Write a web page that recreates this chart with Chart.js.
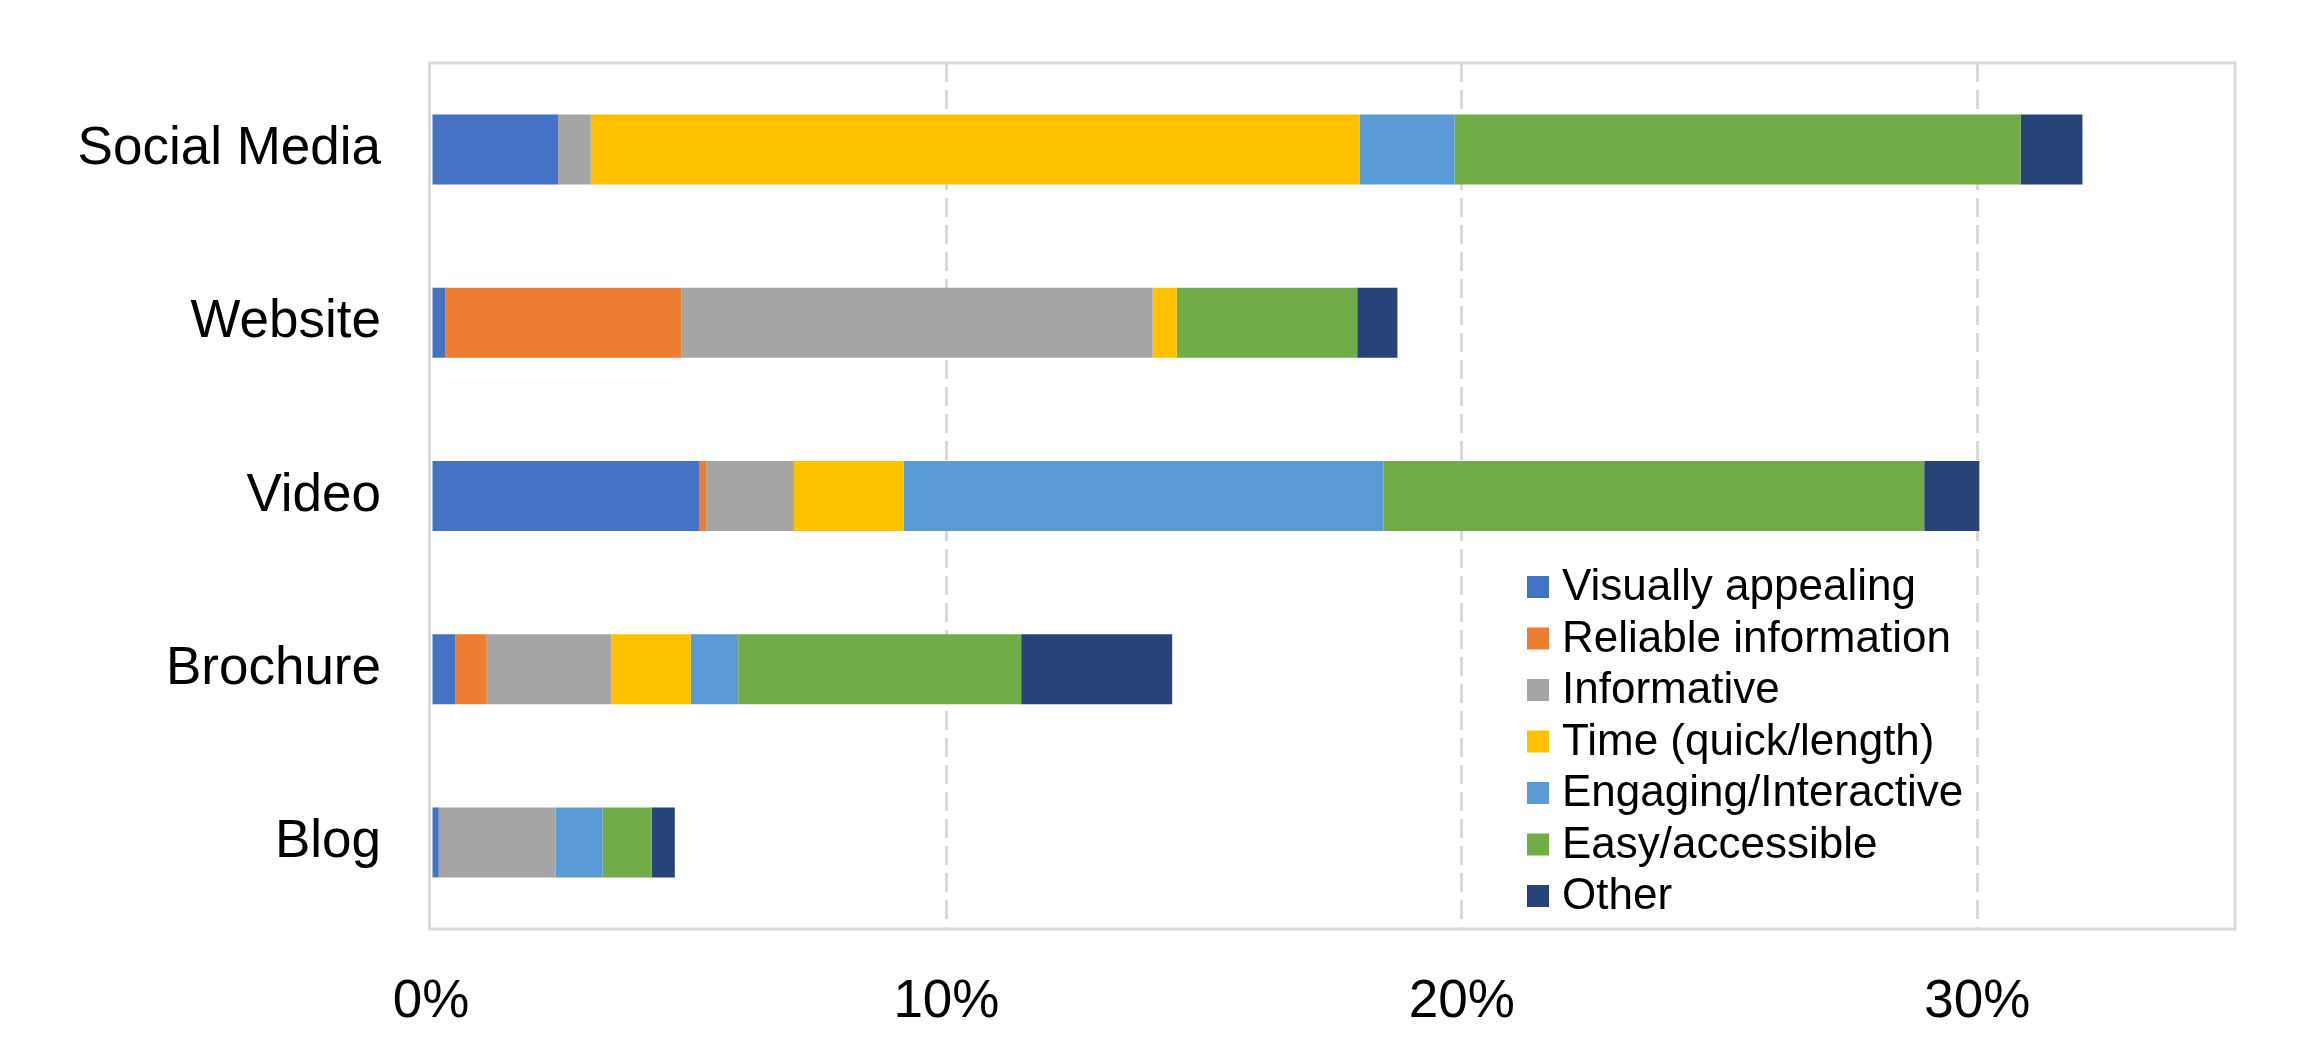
<!DOCTYPE html>
<html>
<head>
<meta charset="utf-8">
<script src="https://cdn.jsdelivr.net/npm/chart.js@4/dist/chart.umd.min.js"></script>
<style>
  html, body { margin: 0; padding: 0; background: #fff; }
  #wrap { width: 2306px; height: 1039px; }
</style>
</head>
<body>
<div id="wrap"><canvas id="chart" width="2306" height="1039"></canvas></div>
<script>
// categories (top to bottom)
const categories = ['Social Media', 'Website', 'Video', 'Brochure', 'Blog'];

// series values, % of responses
const visuallyAppealing = [2.47, 0.28, 5.2, 0.47, 0.15];
const reliableInfo      = [0, 4.58, 0.14, 0.61, 0];
const informative       = [0.63, 9.14, 1.7, 2.42, 2.27];
const timeQuickLength   = [14.92, 0.47, 2.13, 1.54, 0];
const engaging          = [1.84, 0, 9.31, 0.92, 0.91];
const easyAccessible    = [10.98, 3.5, 10.49, 5.49, 0.95];
const other             = [1.2, 0.78, 1.07, 2.93, 0.45];

// x-axis tick labels
const xTicks = [0, 10, 20, 30];
const xMax = 35;

const FONT = "'Liberation Sans', Arial, sans-serif";
const frameColor = '#d9d9d9';

const series = [
    { label: 'Visually appealing', data: visuallyAppealing, color: '#4472C4' },
    { label: 'Reliable information', data: reliableInfo, color: '#ED7D31' },
    { label: 'Informative', data: informative, color: '#A5A5A5' },
    { label: 'Time (quick/length)', data: timeQuickLength, color: '#FFC000' },
    { label: 'Engaging/Interactive', data: engaging, color: '#5B9BD5' },
    { label: 'Easy/accessible', data: easyAccessible, color: '#70AD47' },
    { label: 'Other', data: other, color: '#264478' }
];

// frame round the plot area, drawn under the bars
const framePlugin = {
    id: 'frame',
    beforeDatasetsDraw(chart) {
        const { ctx, chartArea: a } = chart;
        ctx.save();
        ctx.strokeStyle = frameColor;
        ctx.lineWidth = 3;
        ctx.strokeRect(a.left - 1.5, a.top, a.right - a.left + 1.5, a.bottom - a.top);
        ctx.restore();
    }
};

// legend box inside the plot, lower right
const boxLegend = {
    id: 'boxLegend',
    afterDraw(chart) {
        const { ctx, chartArea: a } = chart;
        const x0 = a.left + 1096;
        const y0 = a.top + 524;
        const rowH = 51.5;
        const sq = 22;
        ctx.save();
        ctx.font = '44px ' + FONT;
        ctx.textBaseline = 'middle';
        ctx.textAlign = 'left';
        chart.data.datasets.forEach((ds, i) => {
            const y = y0 + i * rowH;
            ctx.fillStyle = ds.backgroundColor;
            ctx.fillRect(x0, y - sq / 2, sq, sq);
            ctx.fillStyle = '#000';
            ctx.fillText(ds.label, x0 + 35, y + 1);
        });
        ctx.restore();
    }
};

const ctx = document.getElementById('chart').getContext('2d');

new Chart(ctx, {
    type: 'bar',
    data: {
        labels: categories,
        datasets: series.map(s => ({
            label: s.label,
            data: s.data,
            backgroundColor: s.color,
            borderWidth: 0,
            barPercentage: 0.404,
            categoryPercentage: 1
        }))
    },
    options: {
        indexAxis: 'y',
        responsive: false,
        animation: false,
        layout: { padding: { top: 63, right: 71, left: 0, bottom: 0 } },
        plugins: {
            legend: { display: false },
            tooltip: { enabled: false }
        },
        scales: {
            x: {
                stacked: true,
                min: 0,
                max: xMax,
                afterBuildTicks: s => { s.ticks = xTicks.map(v => ({ value: v })); },
                afterFit: s => { s.height = 110; s.paddingLeft = 0; s.paddingRight = 0; },
                grid: {
                    drawTicks: false,
                    lineWidth: 3,
                    color: c => (c.tick && c.tick.value === 0) ? 'rgba(0,0,0,0)' : frameColor
                },
                border: { display: false, dash: [19, 8] },
                ticks: {
                    padding: 42,
                    color: '#000',
                    font: { family: FONT, size: 53 },
                    callback: v => v + '%'
                }
            },
            y: {
                stacked: true,
                afterFit: s => { s.width = 431; s.paddingTop = 0; s.paddingBottom = 0; },
                border: { display: false },
                grid: { display: false, drawTicks: false },
                ticks: {
                    padding: 50,
                    color: '#000',
                    font: { family: FONT, size: 53 }
                }
            }
        }
    },
    plugins: [framePlugin, boxLegend]
});
</script>
</body>
</html>
